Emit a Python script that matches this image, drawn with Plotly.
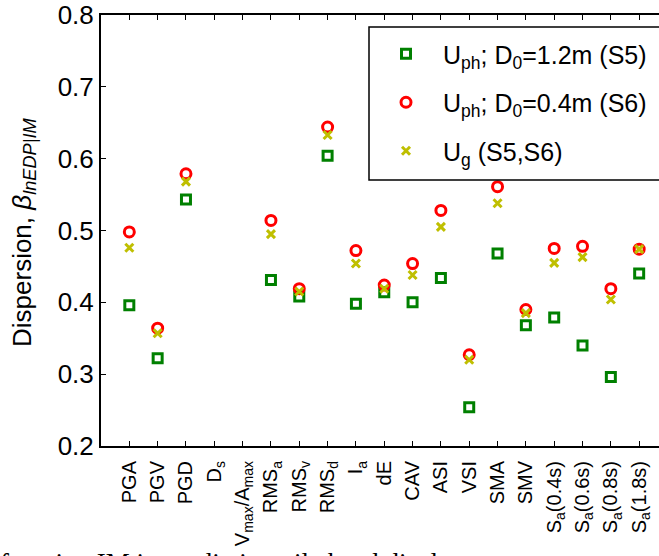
import plotly.graph_objects as go

categories = ["PGA", "PGV", "PGD", "D<sub>s</sub>", "V<sub>max</sub>/A<sub>max</sub>",
              "RMS<sub>a</sub>", "RMS<sub>v</sub>", "RMS<sub>d</sub>", "I<sub>a</sub>",
              "dE", "CAV", "ASI", "VSI", "SMA", "SMV",
              "S<sub>a</sub>(0.4s)", "S<sub>a</sub>(0.6s)", "S<sub>a</sub>(0.8s)", "S<sub>a</sub>(1.8s)"]
uph_s5 = [0.396, 0.322, 0.543, None, None, 0.431, 0.408, 0.604, 0.398, 0.414,
          0.400, 0.434, 0.254, 0.468, 0.368, 0.379, 0.340, 0.296, 0.440]
uph_s6 = [0.498, 0.364, 0.579, None, None, 0.514, 0.419, 0.644, 0.472, 0.424,
          0.454, 0.528, 0.327, 0.561, 0.390, 0.475, 0.478, 0.419, 0.474]
ug = [0.476, 0.357, 0.568, None, None, 0.495, 0.415, 0.633, 0.454, 0.419,
      0.438, 0.505, 0.320, 0.538, 0.385, 0.455, 0.463, 0.404, 0.474]
yticks = [0.2, 0.3, 0.4, 0.5, 0.6, 0.7, 0.8]

xpos = list(range(1, len(categories) + 1))
FONT = "Liberation Sans, Arial, sans-serif"

fig = go.Figure()
fig.add_trace(go.Scatter(
    x=xpos, y=uph_s5, mode="markers", name="U<sub>ph</sub>; D<sub>0</sub>=1.2m (S5)",
    legendgroup="a",
    marker=dict(symbol="square-open", size=9, color="#008000", line=dict(width=3, color="#008000"))))
fig.add_trace(go.Scatter(
    x=xpos, y=uph_s6, mode="markers", name="U<sub>ph</sub>; D<sub>0</sub>=0.4m (S6)",
    legendgroup="b",
    marker=dict(symbol="circle-open", size=10, color="#FF0000", line=dict(width=3, color="#FF0000"))))
fig.add_trace(go.Scatter(
    x=xpos, y=ug, mode="markers", name="U<sub>g</sub> (S5,S6)",
    legendgroup="c",
    marker=dict(symbol="x-thin-open", size=8, color="#BFBF00", line=dict(width=3, color="#BFBF00"))))

W, H = 659, 556
L, R, T, B = 101, 0, 15, 110
pw = W - L - R
ph = H - T - B


def px_x(p):
    return (p - L) / pw


def px_y(p):
    return (H - B - p) / ph


fig.update_layout(
    width=W, height=H,
    margin=dict(l=L, r=R, t=T, b=B, pad=0, autoexpand=False),
    paper_bgcolor="white", plot_bgcolor="white",
    font=dict(family=FONT, color="black"),
    showlegend=True,
    legend=dict(
        x=px_x(369), y=px_y(31), xanchor="left", yanchor="top",
        bgcolor="rgba(0,0,0,0)", borderwidth=0,
        font=dict(family=FONT, size=25, color="black"),
        itemwidth=64, tracegroupgap=13, traceorder="grouped",
    ),
    xaxis=dict(
        range=[0, 19.7], tickvals=xpos, ticktext=categories, tickangle=-90,
        ticks="inside", ticklen=5, tickwidth=1, tickcolor="black",
        showline=True, linecolor="black", linewidth=2, mirror="allticks",
        showgrid=False, zeroline=False, automargin=False,
        tickfont=dict(family=FONT, size=20, color="black"),
        ticklabelstandoff=5,
    ),
    yaxis=dict(
        range=[0.2, 0.8], tickvals=yticks, tickformat=".1f",
        ticks="inside", ticklen=5, tickwidth=1, tickcolor="black",
        showline=True, linecolor="black", linewidth=2, mirror=False,
        showgrid=False, zeroline=False, automargin=False,
        tickfont=dict(family=FONT, size=26, color="black"),
    ),
    shapes=[dict(
        type="rect", xref="paper", yref="paper", layer="above",
        x0=px_x(369), x1=px_x(700), y0=px_y(180), y1=px_y(27),
        fillcolor="white", line=dict(color="black", width=1.5))],
    annotations=[
        dict(text="Dispersion, <i>β</i><sub><i>lnEDP|IM</i></sub>", textangle=-90,
             xref="paper", yref="paper", x=px_x(23), y=px_y(233),
             xanchor="center", yanchor="middle", showarrow=False,
             font=dict(family=FONT, size=26, color="black")),
        dict(text="function IM in prediction pile head displacement",
             xref="paper", yref="paper", x=px_x(-2), y=px_y(546),
             xanchor="left", yanchor="top", showarrow=False,
             font=dict(family="Liberation Serif, Times New Roman, serif", size=27, color="black")),
    ],
)

fig.write_html("out.html", config={"displayModeBar": False},
               post_script="document.body.style.margin='0px';")
